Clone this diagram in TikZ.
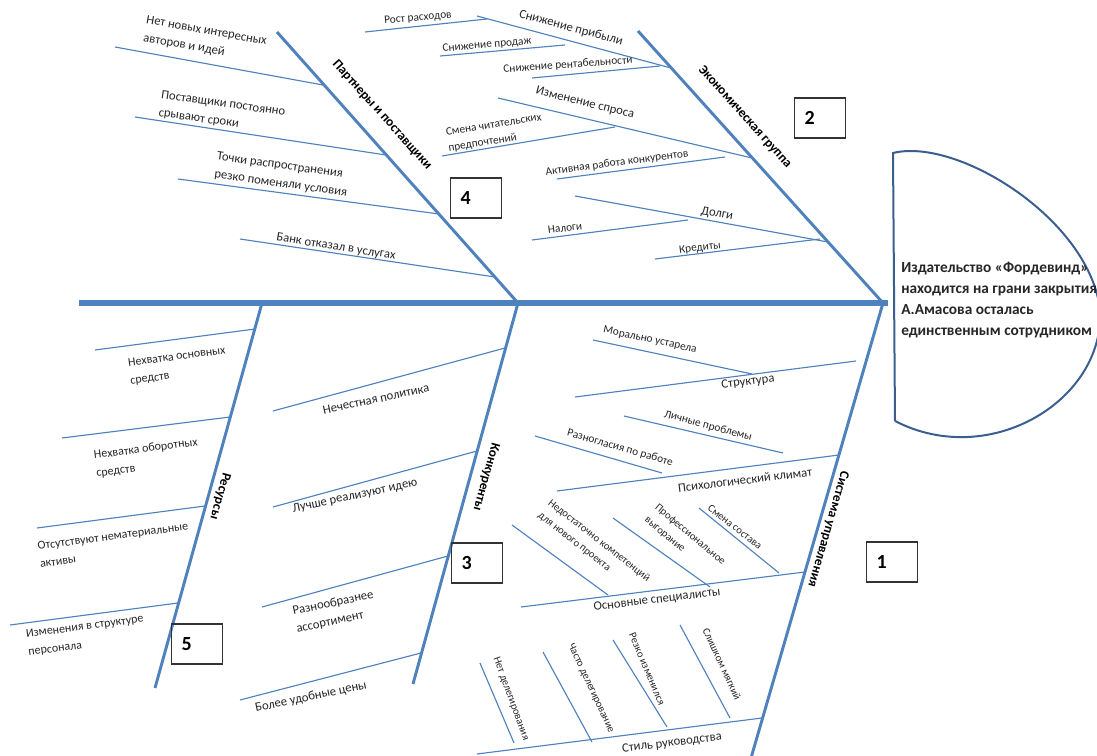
\documentclass[tikz,border=0pt]{standalone}
\usepackage{fontspec}
\setmainfont{Carlito}
\definecolor{bone}{HTML}{4F81BD}
\definecolor{headc}{HTML}{3A5F8F}
\definecolor{txt}{HTML}{262626}
\begin{document}
\begin{tikzpicture}[x=0.75pt,y=-0.75pt,
  spineline/.style={draw=bone, line width=4.2pt},
  boneline/.style={draw=bone, line width=2.2pt},
  twig/.style={draw=bone, line width=0.85pt},
  headline/.style={draw=headc, line width=1.5pt},
  lbl/.style={font=\fontsize{9.5}{13.5}\selectfont, text=txt, inner sep=0pt, align=left},
  lblm/.style={font=\fontsize{9}{13.5}\selectfont, text=txt, inner sep=0pt, align=left},
  lbls/.style={font=\fontsize{8.5}{12}\selectfont, text=txt, inner sep=0pt, align=left},
  lblt/.style={font=\fontsize{8}{12}\selectfont, text=txt, inner sep=0pt, align=left},
  bonelbl/.style={font=\bfseries\fontsize{10}{12}\selectfont, text=black, inner sep=0pt},
  numbox/.style={draw=black!80, line width=1.1pt, font=\bfseries\fontsize{15}{15}\selectfont,
    minimum height=30pt, text width=23pt, inner xsep=7.5pt, align=left},
  headtxt/.style={font=\bfseries\fontsize{11.5}{15.75}\selectfont, text=txt, inner sep=0pt, align=left}]
\useasboundingbox (0,0) rectangle (1097,756);

% ---------- coordinates ----------
\coordinate (sL) at (79,303);  \coordinate (sR) at (888,303);
\coordinate (pT) at (277,32);  \coordinate (pB) at (518,303);
\coordinate (eT) at (638,31);  \coordinate (eB) at (883,303);
\coordinate (rT) at (262,303); \coordinate (rB) at (155,688);
\coordinate (kT) at (518,303); \coordinate (kB) at (413,684);
\coordinate (sT) at (883,303); \coordinate (sB) at (751,758);

% partners
\coordinate (p1a) at (115,47);  \coordinate (p1b) at (323,85);
\coordinate (p2a) at (135,117); \coordinate (p2b) at (386,155);
\coordinate (p3a) at (178,179); \coordinate (p3b) at (439,214);
\coordinate (p4a) at (240,239); \coordinate (p4b) at (495,277);
% economic
\coordinate (e1a) at (477,16);  \coordinate (e1b) at (671,68);
\coordinate (e1xa) at (365,32); \coordinate (e1xb) at (487,19);
\coordinate (e1ya) at (440,56); \coordinate (e1yb) at (565,45);
\coordinate (e1za) at (532,78); \coordinate (e1zb) at (660,66);
\coordinate (e2a) at (498,98);  \coordinate (e2b) at (752,158);
\coordinate (e2xa) at (442,156); \coordinate (e2xb) at (615,127);
\coordinate (e2ya) at (557,179); \coordinate (e2yb) at (725,157);
\coordinate (e3a) at (575,196);  \coordinate (e3b) at (828,242);
\coordinate (e3xa) at (532,240); \coordinate (e3xb) at (688,220);
\coordinate (e3ya) at (655,259); \coordinate (e3yb) at (820,239);
% resources
\coordinate (r1a) at (95,350);  \coordinate (r1b) at (255,329);
\coordinate (r2a) at (62,438);  \coordinate (r2b) at (230,417);
\coordinate (r3a) at (37,528);  \coordinate (r3b) at (205,506);
\coordinate (r4a) at (10,625);  \coordinate (r4b) at (178,603);
% competitors
\coordinate (k1a) at (273,411); \coordinate (k1b) at (505,348);
\coordinate (k2a) at (273,507); \coordinate (k2b) at (477,451);
\coordinate (k3a) at (262,607); \coordinate (k3b) at (448,556);
\coordinate (k4a) at (240,700); \coordinate (k4b) at (421,653);
% management system
\coordinate (s1a) at (575,397); \coordinate (s1b) at (856,361);
\coordinate (s1xa) at (593,340); \coordinate (s1xb) at (752,374);
\coordinate (s2a) at (557,491); \coordinate (s2b) at (839,455);
\coordinate (s2xa) at (624,416); \coordinate (s2xb) at (783,453);
\coordinate (s2ya) at (535,436); \coordinate (s2yb) at (662,473);
\coordinate (s3a) at (521,607); \coordinate (s3b) at (805,572);
\coordinate (s3xa) at (512,525); \coordinate (s3xb) at (608,595);
\coordinate (s3ya) at (613,518); \coordinate (s3yb) at (710,587);
\coordinate (s3za) at (699,508); \coordinate (s3zb) at (779,573);
\coordinate (s4a) at (477,754); \coordinate (s4b) at (762,718);
\coordinate (s4wa) at (480,663); \coordinate (s4wb) at (514,743);
\coordinate (s4xa) at (543,652); \coordinate (s4xb) at (592,742);
\coordinate (s4ya) at (613,640); \coordinate (s4yb) at (667,727);
\coordinate (s4za) at (680,625); \coordinate (s4zb) at (730,718);
% head
\coordinate (h1) at (893,153); \coordinate (h2) at (895,421); \coordinate (hr) at (1100,310);

% ---------- head ----------
\draw[headline] (h2) -- (h1) .. controls (958,137) and (1090,220) .. (hr)
  .. controls (1105,400) and (990,470) .. (h2);
\node[headtxt, anchor=west] (head) at (901,300)
  {Издательство «Фордевинд»\\находится на грани закрытия\\А.Амасова осталась\\единственным сотрудником};

% ---------- twigs ----------
\foreach \n in {p1,p2,p3,p4,e1,e1x,e1y,e1z,e2,e2x,e2y,e3,e3x,e3y,r1,r2,r3,r4,k1,k2,k3,k4,
  s1,s1x,s2,s2x,s2y,s3,s3x,s3y,s3z,s4,s4w,s4x,s4y,s4z}
  \draw[twig] (\n a) -- (\n b);

% ---------- bones ----------
\draw[boneline] (pT) -- (pB);
\draw[boneline] (eT) -- (eB);
\draw[boneline] (rT) -- (rB);
\draw[boneline] (kT) -- (kB);
\draw[boneline] (sT) -- (sB);
\draw[spineline] (sL) -- (sR);

% ---------- bone labels ----------
\node[bonelbl, rotate=-48] (lp) at (382,115) {Партнеры и поставщики};
\node[bonelbl, rotate=-48] (le) at (745,117) {Экономическая группа};
\node[bonelbl, rotate=-105.5] (lr) at (220,496) {Ресурсы};
\node[bonelbl, rotate=-105.4] (lk) at (486,477) {Конкуренты};
\node[bonelbl, rotate=-106] (ls) at (828,529) {Система управления};

% ---------- partners texts ----------
\node[lbl, rotate=-10] (tp1) at (205,40) {Нет новых интересных\\авторов и идей};
\node[lbl, rotate=-8] (tp2) at (222,113) {Поставщики постоянно\\срывают сроки};
\node[lbl, rotate=-8] (tp3) at (282,175) {Точки распространения\\резко поменяли условия};
\node[lbl, rotate=-9] (tp4) at (336,247) {Банк отказал в услугах};

% ---------- economic texts ----------
\node[lbl, rotate=-15] (te1) at (571,28) {Снижение прибыли};
\node[lbls, rotate=5] (te1x) at (418,18) {Рост расходов};
\node[lbls, rotate=5] (te1y) at (487,45) {Снижение продаж};
\node[lbls, rotate=4] (te1z) at (568,65) {Снижение рентабельности};
\node[lbl, rotate=-14] (te2) at (585,103) {Изменение спроса};
\node[lbls, rotate=9] (te2x) at (495,133) {Смена читательских\\предпочтений};
\node[lbls, rotate=7.5] (te2y) at (617,163) {Активная работа конкурентов};
\node[lbl, rotate=-10] (te3) at (717,214) {Долги};
\node[lbls, rotate=7] (te3x) at (565,228) {Налоги};
\node[lbls, rotate=7] (te3y) at (700,248) {Кредиты};

% ---------- resources texts ----------
\node[lblm, rotate=7.5] (tr1) at (178,366) {Нехватка основных\\средств};
\node[lblm, rotate=7.5] (tr2) at (147,458) {Нехватка оборотных\\средств};
\node[lblm, rotate=7.5] (tr3) at (114,545) {Отсутствуют нематериальные\\активы};
\node[lblm, rotate=7.5] (tr4) at (86,636) {Изменения в структуре\\персонала};

% ---------- competitors texts ----------
\node[lbl, rotate=12] (tk1) at (376,399) {Нечестная политика};
\node[lbl, rotate=12] (tk2) at (355,496) {Лучше реализуют идею};
\node[lbl, rotate=12] (tk3) at (335,612) {Разнообразнее\\ассортимент};
\node[lbl, rotate=12] (tk4) at (311,697) {Более удобные цены};

% ---------- management texts ----------
\node[lbls, rotate=-12] (ts1x) at (650,340) {Морально устарела};
\node[lbl, rotate=7] (ts1) at (748,382) {Структура};
\node[lbls, rotate=-15] (ts2x) at (708,426) {Личные проблемы};
\node[lbls, rotate=-16] (ts2y) at (620,448) {Разногласия по работе};
\node[lbl, rotate=7] (ts2) at (745,480) {Психологический климат};
\node[lblt, rotate=-38] (ts3x) at (594,547) {Недостаточно компетенций\\для нового проекта};
\node[lblt, rotate=-40] (ts3y) at (685,541) {Профессиональное\\выгорание};
\node[lblt, rotate=-38] (ts3z) at (735,527) {Смена состава};
\node[lbl, rotate=7] (ts3) at (657,600) {Основные специалисты};
\node[lblt, rotate=-70] (ts4w) at (511,699) {Нет делегирования};
\node[lblt, rotate=-65] (ts4x) at (591,688) {Часто делегирование};
\node[lblt, rotate=-67] (ts4y) at (647,669) {Резко изменился};
\node[lblt, rotate=-65] (ts4z) at (722,664) {Слишком мягкий};
\node[lbl, rotate=7] (ts4) at (672,743) {Стиль руководства};

% ---------- number boxes ----------
\node[numbox] (n1) at (892,562) {1};
\node[numbox] (n2) at (820,118) {2};
\node[numbox] (n3) at (477,563) {3};
\node[numbox] (n4) at (476,198) {4};
\node[numbox] (n5) at (197,644) {5};
\end{tikzpicture}
\end{document}
